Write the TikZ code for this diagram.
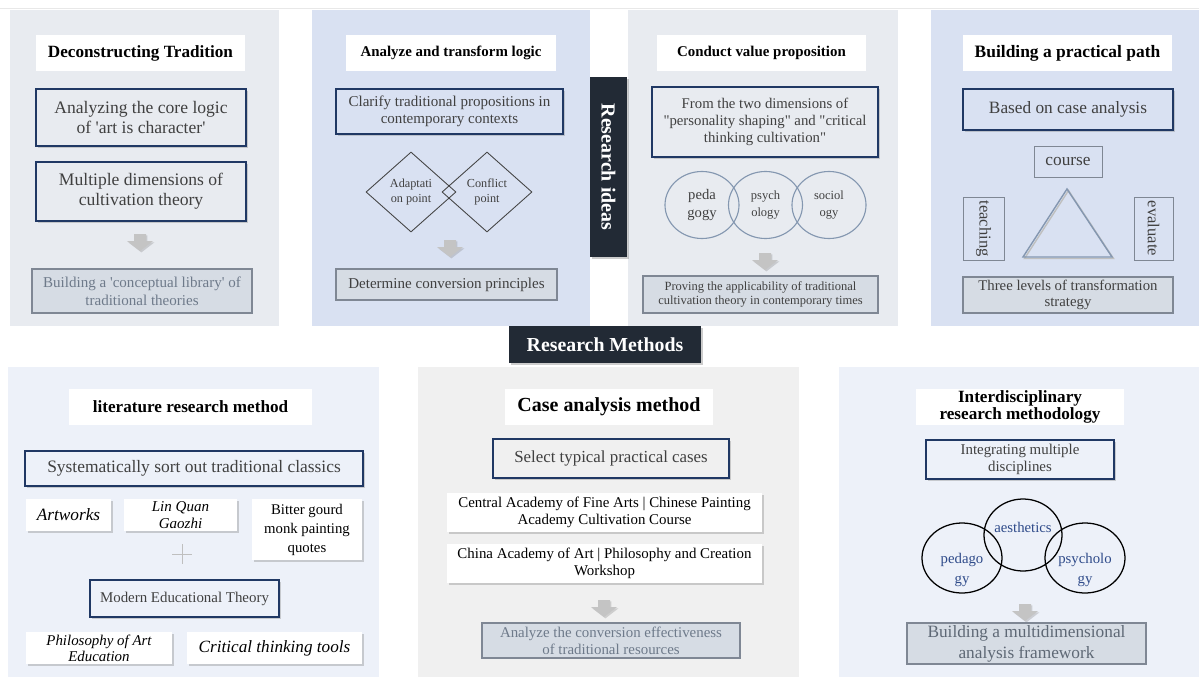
\documentclass[tikz,border=0pt]{standalone}
\usepackage{fontspec}
\setmainfont{Liberation Serif}
\usetikzlibrary{fit,shadows,shapes.geometric}

\definecolor{navy}{HTML}{203864}
\definecolor{panelgray}{HTML}{E8EBF0}
\definecolor{panelblue}{HTML}{D9E1F2}
\definecolor{panellight}{HTML}{EDF1F9}
\definecolor{panelgrey}{HTML}{F0F0F0}
\definecolor{darkbar}{HTML}{222A35}
\definecolor{resfill}{HTML}{D6DCE4}
\definecolor{resline}{HTML}{7F8794}
\definecolor{textgray}{HTML}{404040}
\definecolor{textlight}{HTML}{6E7A8A}
\definecolor{ringblue}{HTML}{8497B0}
\definecolor{wordblue}{HTML}{2F4B8A}
\definecolor{arrowgray}{HTML}{C4C4C4}

\newcommand\unitpx{0.025cm}

\tikzset{
  dims/.style 2 args={minimum width=#1*\unitpx, minimum height=#2*\unitpx},
  headbox/.style={fill=white, inner sep=0pt, align=center, font=\bfseries\fontsize{12.2}{14}\selectfont},
  keybox/.style={draw=navy, line width=1.2pt, fill=#1, inner sep=0pt, align=center, text=textgray,
    font=\fontsize{12.5}{14.5}\selectfont,
    drop shadow={opacity=.35, shadow xshift=1.2pt, shadow yshift=-1.2pt}},
  keybox/.default=panelgray,
  resbox/.style={draw=resline, fill=resfill, line width=.8pt, inner sep=0pt, align=center, text=textgray,
    font=\fontsize{10.7}{12.5}\selectfont},
  itembox/.style={fill=white, inner sep=0pt, align=center,
    font=\fontsize{10.6}{12.3}\selectfont,
    drop shadow={opacity=.35, shadow xshift=1.2pt, shadow yshift=-1.2pt}},
  plainbox/.style={draw=resline, line width=.6pt, inner sep=0pt, align=center, text=textgray,
    font=\fontsize{12.3}{14}\selectfont},
  ideabar/.style={fill=darkbar, inner sep=0pt, text=white, font=\bfseries\fontsize{14.2}{16}\selectfont,
    drop shadow={opacity=.4, shadow xshift=1.5pt, shadow yshift=-1.5pt}},
  ring/.style={ellipse, draw=ringblue, line width=.8pt, inner sep=0pt, align=center, text=textgray,
    font=\fontsize{8.9}{11.5}\selectfont},
  blackring/.style={ellipse, draw=black, line width=.9pt, inner sep=0pt},
  ringword/.style={align=center, inner sep=0pt, text=wordblue, font=\fontsize{10.5}{14}\selectfont},
  rhomb/.style={diamond, draw=textgray, line width=.6pt, inner sep=0pt, align=center, text=textgray,
    minimum width=90*\unitpx, minimum height=80*\unitpx, font=\fontsize{8.7}{11}\selectfont},
  downarrow/.pic={
    \fill[arrowgray, drop shadow={opacity=.3, shadow xshift=1pt, shadow yshift=-1pt}]
      (-6,0) -- (6,0) -- (6,7) -- (13,7) -- (0,17) -- (-13,7) -- (-6,7) -- cycle;}
}

\begin{document}
\begin{tikzpicture}[x=\unitpx,y=-\unitpx]
\useasboundingbox (0,0) rectangle (1199,678);
\fill[white] (0,0) rectangle (1199,678);
\draw[black!9, line width=.5pt] (0,8) -- (1199,8);

\fill[panelgray] (10,10) rectangle (279,326);
\fill[panelblue] (312,10) rectangle (590,326);
\fill[panelgray] (628,10) rectangle (898,326);
\fill[panelblue] (931,10) rectangle (1199,326);
\fill[panellight] (8,367) rectangle (379,677);
\fill[panelgrey] (418,367) rectangle (799,677);
\fill[panellight] (839,367) rectangle (1199,677);

\node[headbox, dims={209}{36}] (decon) at (140.5,53) {Deconstructing Tradition};
\node[keybox, dims={210}{57}] (corelogic) at (141,117.5) {Analyzing the core logic\\of \textquotesingle art is character\textquotesingle};
\node[keybox, dims={210}{59}] (dimens) at (141,191.5) {Multiple dimensions of\\cultivation theory};
\pic at (140,234) {downarrow};
\node[resbox, text=textlight, dims={220}{44}] (library) at (142,291) {Building a \textquotesingle conceptual library\textquotesingle{} of\\traditional theories};

\node[headbox, font=\bfseries\fontsize{10.6}{12}\selectfont, dims={210}{36}] (analyze) at (451,53) {Analyze and transform logic};
\node[keybox=panelblue, font=\fontsize{10.7}{12.5}\selectfont, dims={227}{45}] (clarify) at (449.5,111.5) {Clarify traditional propositions in\\contemporary contexts};
\node[rhomb] (adapt) at (411,192) {Adaptati\\on point};
\node[rhomb] (conflict) at (487,192) {Conflict\\point};
\pic at (450,240) {downarrow};
\node[resbox, dims={221}{31}] (principles) at (446.5,284.5) {Determine conversion principles};

\node[ideabar, fit={(590,77) (627,257)}] (ideabox) {};
\node[text=white, font=\bfseries\fontsize{14.2}{16}\selectfont, rotate=-90] (ideas) at (ideabox.center) {Research ideas};

\node[headbox, font=\bfseries\fontsize{10.6}{12}\selectfont, dims={209}{36}] (value) at (761.5,53) {Conduct value proposition};
\node[keybox, font=\fontsize{10.5}{12.3}\selectfont, dims={226}{70}] (twodim) at (765,122) {From the two dimensions of\\\textquotedbl personality shaping\textquotedbl{} and \textquotedbl critical\\thinking cultivation\textquotedbl};
\node[ring, font=\fontsize{10.4}{13}\selectfont, dims={74}{67}] (peda) at (702,205) {peda\\gogy};
\node[ring, dims={74}{67}] (psych) at (765.5,205) {psych\\ology};
\node[ring, dims={74}{67}] (socio) at (829,205) {sociol\\ogy};
\pic at (765,253) {downarrow};
\node[resbox, font=\fontsize{8.9}{10.5}\selectfont, dims={235}{37}] (proving) at (760.5,294.5) {Proving the applicability of traditional\\cultivation theory in contemporary times};

\node[headbox, font=\bfseries\fontsize{12.4}{14}\selectfont, dims={209}{36}] (practical) at (1067.5,53) {Building a practical path};
\node[keybox=panelblue, font=\fontsize{12.3}{14}\selectfont, dims={210}{41}] (casebased) at (1068,109.5) {Based on case analysis};
\node[plainbox, dims={68}{31}] (course) at (1068,161.5) {course};
\node[plainbox, fit={(963,197) (1004,260)}] (teachbox) {};
\node[text=textgray, font=\fontsize{11.8}{14}\selectfont, rotate=-90] (teach) at (teachbox.center) {teaching};
\node[plainbox, fit={(1134,197) (1173,260)}] (evalbox) {};
\node[text=textgray, font=\fontsize{11.8}{14}\selectfont, rotate=-90] (eval) at (evalbox.center) {evaluate};
\draw[black!25, line width=1pt] (1068.5,190.5) -- (1113.5,258.5) -- (1024.5,258.5) -- cycle;
\draw[ringblue, line width=1pt] (1067,189) -- (1112,257) -- (1023,257) -- cycle;
\node[resbox, font=\fontsize{10.5}{11.5}\selectfont, dims={210}{36}] (levels) at (1068,295) {Three levels of transformation\\strategy};

\node[ideabar, font=\bfseries\fontsize{14.1}{16}\selectfont, dims={192}{37}] (methods) at (605,344.5) {Research Methods};

\node[headbox, dims={243}{36}] (literature) at (190.5,407) {literature research method};
\node[keybox=panellight, font=\fontsize{12.4}{14}\selectfont, dims={338}{35}] (classics) at (194,468.5) {Systematically sort out traditional classics};
\node[itembox, font=\itshape\fontsize{12.3}{14}\selectfont, dims={85}{32}] (artworks) at (68.5,515) {Artworks};
\node[itembox, font=\itshape\fontsize{10.7}{12}\selectfont, dims={113}{32}] (linquan) at (180.5,515) {Lin Quan\\Gaozhi};
\node[itembox, font=\fontsize{10.5}{13.5}\selectfont, dims={110}{61}] (bitter) at (307,529.5) {Bitter gourd\\monk painting\\quotes};
\draw[black!25, line width=.5pt] (172,554) -- (192,554) (182,544) -- (182,564);
\node[keybox=panellight, font=\fontsize{10.6}{12}\selectfont, dims={189}{37}] (modern) at (184.5,598.5) {Modern Educational Theory};
\node[itembox, font=\itshape\fontsize{10.6}{11.5}\selectfont, dims={146}{32}] (philo) at (99,648) {Philosophy of Art\\Education};
\node[itembox, font=\itshape\fontsize{12.2}{14}\selectfont, dims={175}{32}] (critical) at (274.5,648) {Critical thinking tools};

\node[headbox, font=\bfseries\fontsize{14.2}{16}\selectfont, dims={208}{36}] (casemethod) at (609,407) {Case analysis method};
\node[keybox=panelgrey, font=\fontsize{12}{14}\selectfont, dims={236}{39}] (select) at (611,458.5) {Select typical practical cases};
\node[itembox, dims={315}{39}] (cafa) at (604.5,512.5) {Central Academy of Fine Arts | Chinese Painting\\Academy Cultivation Course};
\node[itembox, dims={315}{39}] (caa) at (604.5,563.5) {China Academy of Art | Philosophy and Creation\\Workshop};
\pic at (604,600) {downarrow};
\node[resbox, text=textlight, font=\fontsize{10.6}{12.3}\selectfont, dims={258}{35}] (effect) at (611,640.5) {Analyze the conversion effectiveness\\of traditional resources};

\node[headbox, font=\bfseries\fontsize{12.2}{11.6}\selectfont, dims={208}{36}] (interdis) at (1020,407) {Interdisciplinary\\research methodology};
\node[keybox=panellight, font=\fontsize{10.6}{12}\selectfont, dims={188}{39}] (integrate) at (1020,459.5) {Integrating multiple\\disciplines};
\node[blackring, dims={78}{72}] (aesring) at (1023,535) {};
\node[blackring, dims={80}{70}] (pedring) at (962,558) {};
\node[blackring, dims={80}{70}] (psyring) at (1085,558) {};
\node[ringword] (aesword) at (1023,527) {aesthetics};
\node[ringword] (pedword) at (962,570) {pedago\\gy};
\node[ringword] (psyword) at (1085,570) {psycholo\\gy};
\pic at (1025,604) {downarrow};
\node[resbox, text=textlight!85!black, font=\fontsize{12.3}{15}\selectfont, dims={239}{41}] (framework) at (1026.5,643.5) {Building a multidimensional\\analysis framework};
\end{tikzpicture}
\end{document}
